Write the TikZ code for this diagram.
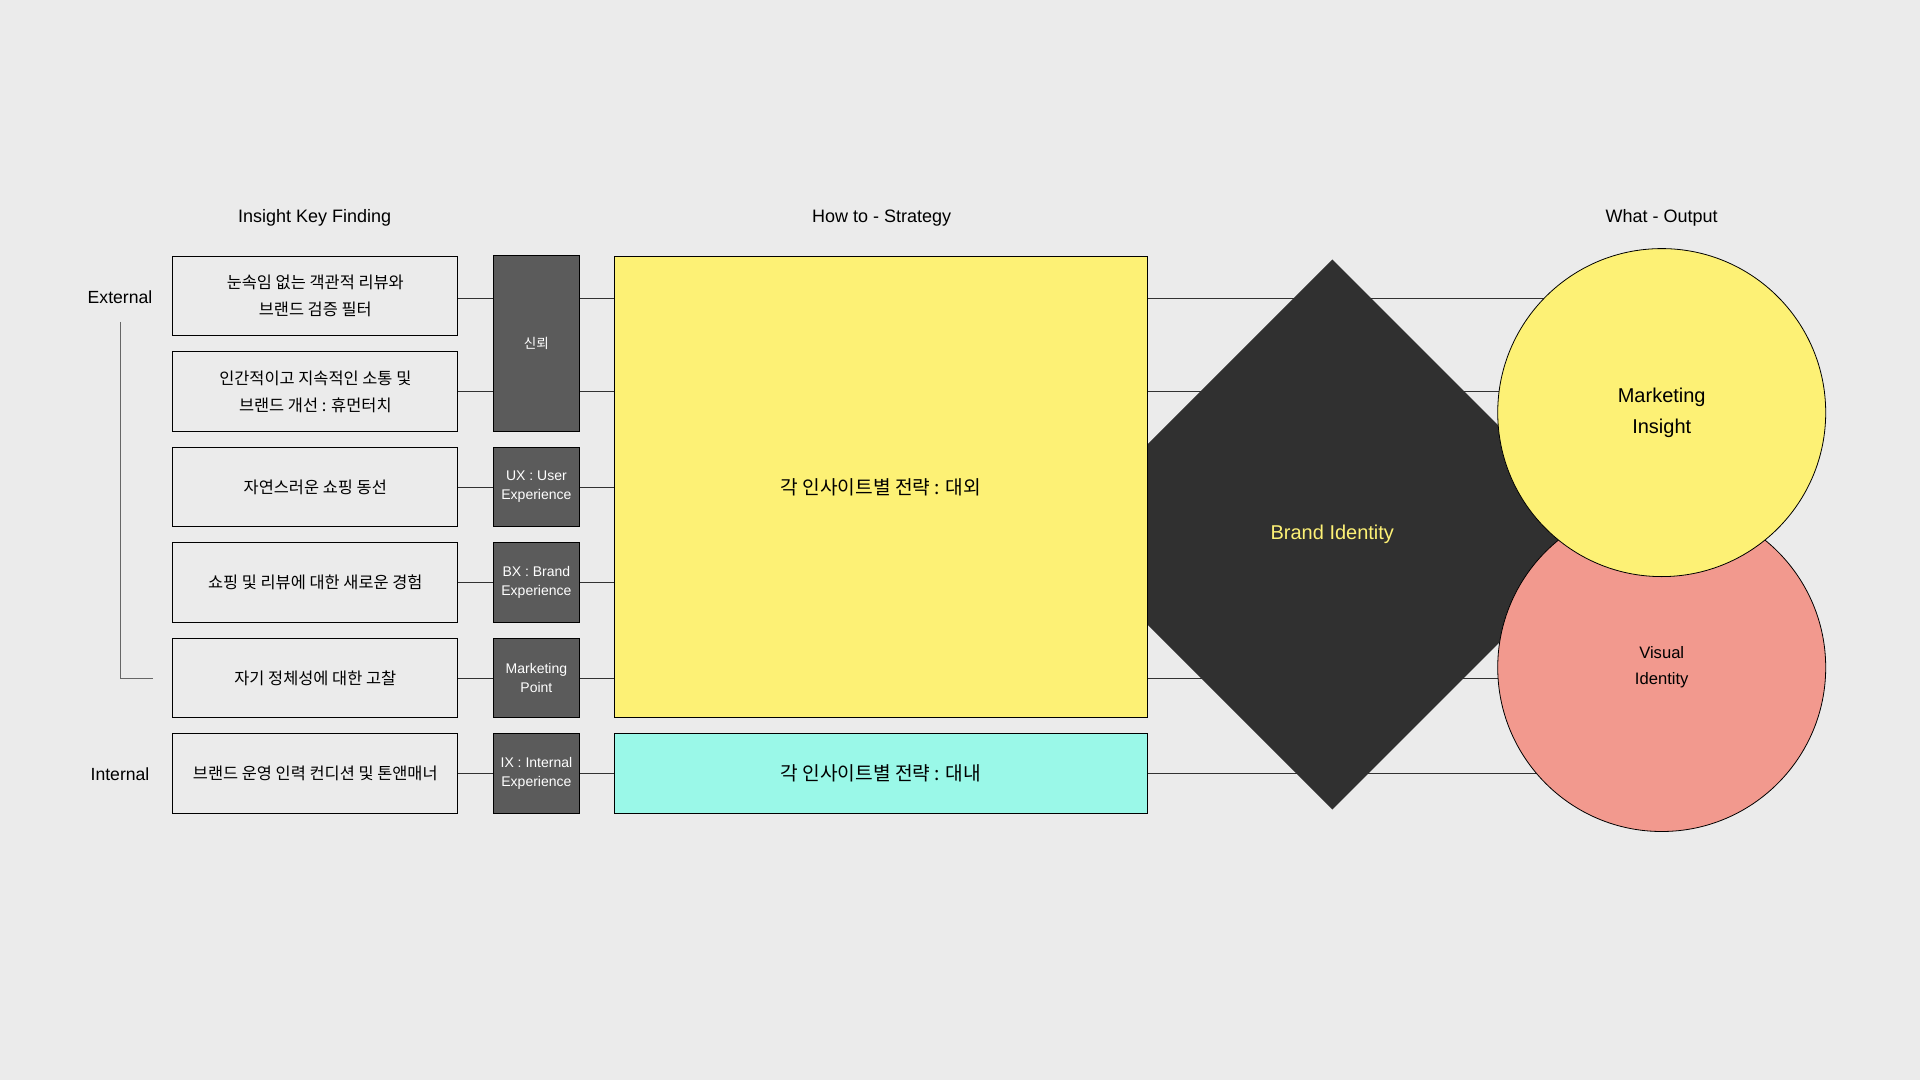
\documentclass[tikz,border=0pt]{standalone}
\usepackage{fontspec}
\setmainfont{Liberation Sans}
\newfontfamily\kr{Noto Sans CJK KR}
\definecolor{bgc}{RGB}{235,235,235}
\definecolor{yel}{RGB}{253,241,117}
\definecolor{cya}{RGB}{154,248,232}
\definecolor{drk}{RGB}{91,91,91}
\definecolor{dia}{RGB}{48,48,48}
\definecolor{sal}{RGB}{242,153,142}
\definecolor{lin}{RGB}{50,50,50}
\pgfdeclarelayer{bglayer}
\pgfdeclarelayer{linelayer}
\pgfsetlayers{bglayer,linelayer,main}
\begin{document}
\begin{tikzpicture}[x=0.5pt,y=-0.5pt,
  finding/.style={draw=black, line width=0.5pt, fill=bgc, minimum width=142.6pt, minimum height=39.75pt, align=center, inner sep=0pt, font=\kr\fontsize{8.2}{13.5}\selectfont},
  keybox/.style={draw=black, line width=0.5pt, fill=drk, text=white, minimum width=42.85pt, minimum height=39.75pt, align=center, inner sep=0pt, font=\fontsize{7}{9.5}\selectfont},
  strat/.style={draw=black, line width=0.5pt, minimum width=266.35pt, align=center, inner sep=0pt, font=\kr\fontsize{9.6}{12}\selectfont},
  outc/.style={circle, draw=black, line width=0.4pt, minimum size=164pt, inner sep=0pt, align=center},
  coltitle/.style={font=\fontsize{9}{11}\selectfont},
  side/.style={font=\fontsize{8.8}{11}\selectfont},
  conn/.style={draw=lin, line width=0.5pt},
]
\useasboundingbox (0,0) rectangle (1920,1080);
\begin{pgfonlayer}{bglayer}
\fill[bgc] (0,0) rectangle (1920,1080);
\end{pgfonlayer}

% titles
\node[coltitle] (t1) at (314.7,218) {Insight Key Finding};
\node[coltitle] (t2) at (881.6,218) {How to - Strategy};
\node[coltitle] (t3) at (1661.7,218) {What - Output};

% side labels
\node[side] (ext) at (120,297) {External};
\node[side] (int) at (120,774.5) {Internal};

% findings
\node[finding] (b1) at (315.3,296) {눈속임 없는 객관적 리뷰와\\브랜드 검증 필터};
\node[finding] (b2) at (315.3,391.5) {인간적이고 지속적인 소통 및\\브랜드 개선 : 휴먼터치};
\node[finding] (b3) at (315.3,487) {자연스러운 쇼핑 동선};
\node[finding] (b4) at (315.3,582.5) {쇼핑 및 리뷰에 대한 새로운 경험};
\node[finding] (b5) at (315.3,678) {자기 정체성에 대한 고찰};
\node[finding] (b6) at (315.3,773.5) {브랜드 운영 인력 컨디션 및 톤앤매너};

% key boxes
\node[keybox, minimum height=87.5pt, font=\kr\fontsize{6.8}{8}\selectfont] (k12) at (536.4,343.5) {신뢰};
\node[keybox] (k3) at (536.4,487) {UX : User\\Experience};
\node[keybox] (k4) at (536.4,582.5) {BX : Brand\\Experience};
\node[keybox] (k5) at (536.4,678) {Marketing\\Point};
\node[keybox] (k6) at (536.4,773.5) {IX : Internal\\Experience};

% diamond (behind strategy box)
\fill[dia] (1332.3,259.5) -- (1607.3,534.5) -- (1332.3,809.5) -- (1057.3,534.5) -- cycle;

% strategy boxes
\node[strat, fill=yel, minimum height=230.9pt] (ys) at (881,487) {각 인사이트별 전략 : 대외};
\node[strat, fill=cya, minimum height=39.75pt] (cy) at (881,773.5) {각 인사이트별 전략 : 대내};

\node[text=yel, font=\fontsize{10}{12}\selectfont] (bi) at (1332.3,534) {Brand Identity};

% outputs
\node[outc, fill=sal, font=\fontsize{8.3}{13}\selectfont] (vi) at (1661.7,667.5) {Visual\\Identity};
\node[outc, fill=yel, font=\fontsize{10}{15.3}\selectfont] (mi) at (1661.7,412.6) {Marketing\\Insight};

% connectors
\begin{pgfonlayer}{linelayer}
\draw[conn] ([yshift=-1.5pt]b1.east) -- ([yshift=-1.5pt]b1.east -| mi.center);
\draw[conn] (b2.east) -- (b2.east -| mi.center);
\draw[conn] (b3.east) -- (b3.east -| ys.west);
\draw[conn] (b4.east) -- (b4.east -| ys.west);
\draw[conn] (b5.east) -- (b5.east -| vi.center);
\draw[conn] (b6.east) -- (b6.east -| vi.center);
\coordinate (brtop) at (120,322);
\coordinate (brend) at (153,678);
\draw[conn, draw=black!60] (brtop) |- (brend);
\end{pgfonlayer}
\end{tikzpicture}
\end{document}
